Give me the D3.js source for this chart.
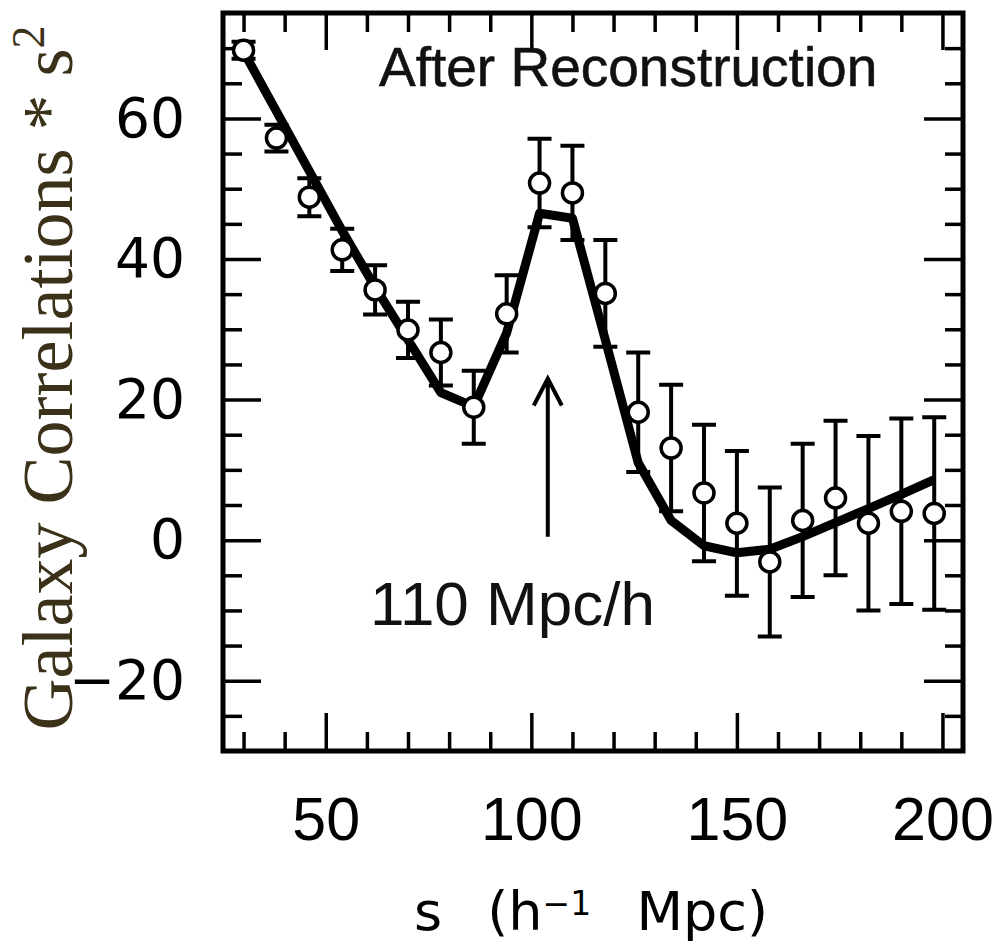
<!DOCTYPE html>
<html>
<head>
<meta charset="utf-8">
<script src="https://cdn.jsdelivr.net/npm/d3@7"></script>
<style>
  html, body { margin: 0; padding: 0; background: #fff; }
  svg { display: block; }
</style>
</head>
<body>
<svg id="chart" width="999" height="948"></svg>
<script>
// separation bins (h^-1 Mpc)
var sBins = [30, 38, 46, 54, 62, 70, 78, 86, 94, 102, 110, 118, 126, 134, 142, 150, 158, 166, 174, 182, 190, 198];
// measured correlation * s^2 after reconstruction
var xiValues = [69.7, 57.2, 48.8, 41.3, 35.6, 29.9, 26.7, 18.9, 32.2, 50.8, 49.4, 35.1, 18.2, 13.1, 6.7, 2.4, -3.1, 2.8, 6.0, 2.4, 4.1, 3.8];
var xiErrors = [1.2, 1.9, 2.7, 3.0, 3.5, 4.0, 4.7, 5.2, 5.5, 6.3, 6.7, 7.6, 8.5, 9.0, 9.7, 10.3, 10.6, 10.9, 11.0, 12.4, 13.2, 13.7];
// best fit model
var modelValues = [69.5, 61.0, 52.5, 44.0, 36.0, 28.5, 21.0, 19.0, 29.5, 46.5, 45.8, 28.5, 11.0, 2.8, -0.8, -1.8, -1.3, 0.5, 2.5, 4.5, 6.5, 8.6];

var xMajorTicks = [50, 100, 150, 200];
var xMinorTicks = [30, 40, 60, 70, 80, 90, 110, 120, 130, 140, 160, 170, 180, 190];
var yMajorTicks = [-20, 0, 20, 40, 60];
var yMinorTicks = [-25, -15, -10, -5, 5, 10, 15, 25, 30, 35, 45, 50, 55, 65, 70];

// acoustic peak marker: position, arrow tail, arrow head
var peakArrow = [104, 0.5, 23];

var margin = {top: 13, left: 223},
    width = 740, height = 738;

var svg = d3.select("#chart");
var g = svg.append("g").attr("transform", "translate(" + margin.left + "," + margin.top + ")");

var x = d3.scaleLinear().domain([25, 205]).range([0, width]);
var y = d3.scaleLinear().domain([-30, 75]).range([height, 0]);

var points = sBins.map(function (s, i) {
    return {s: s, v: xiValues[i], e: xiErrors[i], m: modelValues[i]};
});

// ticks on all four sides, pointing in
function tickLayer(axis, transform) {
    var a = g.append("g").attr("transform", transform || null).call(axis);
    a.select(".domain").remove();
    a.selectAll(".tick line").attr("stroke", "#000").attr("stroke-width", 3.5);
    return a;
}
var fmt = d3.format("d");

var bottomMajor = tickLayer(d3.axisBottom(x).tickValues(xMajorTicks).tickSizeInner(-38).tickSizeOuter(0).tickPadding(46).tickFormat(fmt),
    "translate(0," + height + ")");
bottomMajor.selectAll("text").attr("fill", "#000")
    .style("font-family", "'Liberation Sans', Arial, sans-serif").style("font-size", "61px");
tickLayer(d3.axisBottom(x).tickValues(xMinorTicks).tickSizeInner(-19).tickSizeOuter(0).tickFormat(""), "translate(0," + height + ")");
tickLayer(d3.axisTop(x).tickValues(xMajorTicks).tickSizeInner(-37).tickSizeOuter(0).tickFormat(""));
tickLayer(d3.axisTop(x).tickValues(xMinorTicks).tickSizeInner(-19).tickSizeOuter(0).tickFormat(""));

var leftMajor = tickLayer(d3.axisLeft(y).tickValues(yMajorTicks).tickSizeInner(-38).tickSizeOuter(0).tickPadding(38).tickFormat(fmt));
leftMajor.selectAll("text").attr("fill", "#000")
    .style("font-family", "'DejaVu Sans', sans-serif").style("font-size", "55px");
tickLayer(d3.axisLeft(y).tickValues(yMinorTicks).tickSizeInner(-19).tickSizeOuter(0).tickFormat(""));
tickLayer(d3.axisRight(y).tickValues(yMajorTicks).tickSizeInner(-39).tickSizeOuter(0).tickFormat(""), "translate(" + width + ",0)");
tickLayer(d3.axisRight(y).tickValues(yMinorTicks).tickSizeInner(-18).tickSizeOuter(0).tickFormat(""), "translate(" + width + ",0)");

// frame
g.append("rect")
    .attr("width", width).attr("height", height)
    .attr("fill", "none").attr("stroke", "#000").attr("stroke-width", 5);

// error bars
var capW = 12;
var bars = g.append("g").attr("class", "errorbars")
    .attr("stroke", "#000").attr("stroke-width", 4).attr("fill", "none");
bars.selectAll("path").data(points).enter().append("path")
    .attr("d", function (d) {
        var cx = x(d.s), y0 = y(d.v - d.e), y1 = y(d.v + d.e);
        return "M" + cx + "," + y0 + "V" + y1 +
            "M" + (cx - capW) + "," + y1 + "H" + (cx + capW) +
            "M" + (cx - capW) + "," + y0 + "H" + (cx + capW);
    });

// model curve
var line = d3.line()
    .x(function (d) { return x(d.s); })
    .y(function (d) { return y(d.m); });
g.append("path").datum(points)
    .attr("d", line)
    .attr("fill", "none").attr("stroke", "#000").attr("stroke-width", 9)
    .attr("stroke-linejoin", "round");

// data points
g.append("g").selectAll("circle").data(points).enter().append("circle")
    .attr("cx", function (d) { return x(d.s); })
    .attr("cy", function (d) { return y(d.v); })
    .attr("r", 10)
    .attr("fill", "#fff").attr("stroke", "#000").attr("stroke-width", 3.5);

// arrow marking the peak
var ax = x(peakArrow[0]), ayTail = y(peakArrow[1]), ayHead = y(peakArrow[2]);
g.append("path")
    .attr("d", "M" + ax + "," + ayTail + "V" + ayHead +
        "M" + (ax - 14) + "," + (ayHead + 27) + "L" + ax + "," + ayHead + "L" + (ax + 14) + "," + (ayHead + 27))
    .attr("fill", "none").attr("stroke", "#000").attr("stroke-width", 4);

// annotations
g.append("text")
    .attr("x", 156).attr("y", 73)
    .style("font-family", "'Liberation Sans', Arial, sans-serif").style("font-size", "55px")
    .attr("fill", "#111").attr("stroke", "#111").attr("stroke-width", 0.6)
    .text("After Reconstruction");

g.append("text")
    .attr("x", 147).attr("y", 612)
    .style("font-family", "'Liberation Sans', Arial, sans-serif").style("font-size", "62px")
    .attr("fill", "#111")
    .text("110 Mpc/h");

// axis titles
var xt = svg.append("text")
    .attr("x", 591).attr("y", 930)
    .attr("text-anchor", "middle")
    .attr("word-spacing", 28)
    .style("font-family", "'DejaVu Sans', sans-serif").style("font-size", "54px")
    .attr("fill", "#000");
xt.append("tspan").text("s (h");
xt.append("tspan").attr("dy", -15).style("font-size", "33px").text("\u22121");
xt.append("tspan").attr("dy", 15).text(" Mpc)");

var yt = svg.append("text")
    .attr("transform", "translate(72,378) rotate(-90)")
    .attr("text-anchor", "middle")
    .style("font-family", "'Liberation Serif', 'Times New Roman', serif").style("font-size", "72px")
    .attr("fill", "#3b3118");
yt.append("tspan").text("Galaxy Correlations * s");
yt.append("tspan").attr("dy", -28).style("font-size", "46px").text("2");
</script>
</body>
</html>
